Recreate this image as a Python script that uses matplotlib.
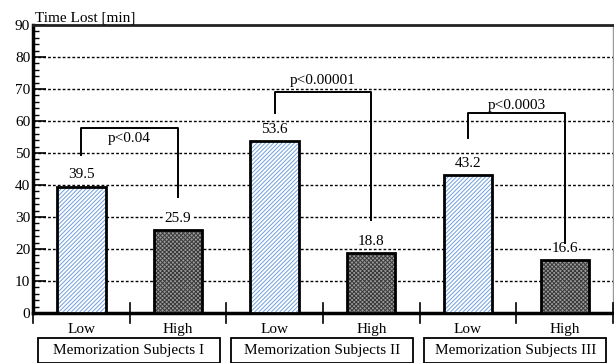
"""plot.py: Time lost per memorization subject group, low vs high"""
import matplotlib.pyplot as plt
from matplotlib.patches import Rectangle
from matplotlib.transforms import blended_transform_factory

groups = ["Memorization Subjects I", "Memorization Subjects II", "Memorization Subjects III"]
levels = ["Low", "High"]
low_values = [39.5, 53.6, 43.2]
high_values = [25.9, 18.8, 16.6]
p_labels = ["p<0.04", "p<0.00001", "p<0.0003"]
# bracket: left leg bottom, top, right leg bottom, label y
brackets = [(49.4, 57.8, 36.4, 54.4), (62.5, 69.0, 29.0, 72.8), (54.7, 62.5, 21.9, 64.7)]

FONT = 11
BAR_W = 0.5

plt.rcParams['font.family'] = ['Liberation Serif', 'DejaVu Serif']
plt.rcParams['hatch.linewidth'] = 0.7

fig = plt.figure(figsize=(6.14, 3.63), dpi=100)
ax = fig.add_axes([33 / 614, 50 / 363, 580 / 614, 288 / 363])

ax.set_xlim(0, 6)
ax.set_ylim(0, 90)

for i in range(len(groups)):
    xl = 2 * i + 0.5
    xh = 2 * i + 1.5
    # low bar: blue hatch, black outline
    ax.bar(xl, low_values[i], BAR_W, color='white', edgecolor='#6f9fe0',
           hatch='////////', linewidth=0, zorder=3)
    ax.bar(xl, low_values[i], BAR_W, fill=False, edgecolor='black', linewidth=2, zorder=4)
    # high bar: dark dithered
    ax.bar(xh, high_values[i], BAR_W, color='#9c9c9c', edgecolor='#383838',
           hatch='xxxxxxxx', linewidth=0, zorder=3)
    ax.bar(xh, high_values[i], BAR_W, fill=False, edgecolor='black', linewidth=2, zorder=4)

    for x, v in ((xl, low_values[i]), (xh, high_values[i])):
        ax.text(x, v + 1.6, "{:.1f}".format(v), ha='center', va='bottom', fontsize=FONT,
                zorder=5, bbox=dict(facecolor='white', edgecolor='none', pad=0.5))

    lb, top, rb, ty = brackets[i]
    ax.plot([xl, xl, xh, xh], [lb, top, top, rb], color='black', linewidth=1.4, zorder=5)
    ax.text((xl + xh) / 2, ty, p_labels[i], ha='center', va='center', fontsize=FONT, zorder=5)

# grid
for y in range(0, 90, 10):
    ax.axhline(y, color='black', linewidth=1, linestyle=(0, (2, 1.5)), zorder=1)

ax.set_yticks(range(0, 91, 10))
ax.set_yticks(range(0, 91, 2), minor=True)
ax.tick_params(axis='y', which='major', direction='in', length=9, width=1.2,
               labelsize=FONT, pad=2)
ax.tick_params(axis='y', which='minor', direction='in', length=4, width=1)
ax.set_xticks([])

ax.spines['left'].set_linewidth(2.5)
ax.spines['bottom'].set_linewidth(2.5)
ax.spines['top'].set_linewidth(2)
ax.spines['top'].set_color('#222222')
ax.spines['right'].set_color('#999999')
ax.spines['right'].set_linewidth(1)

trans = blended_transform_factory(ax.transData, ax.transAxes)
for b in range(7):
    ax.plot([b, b], [0.035, -0.035], color='black', linewidth=1.2, transform=trans,
            clip_on=False, zorder=6)
for i in range(len(groups)):
    for j, lvl in enumerate(levels):
        ax.text(2 * i + j + 0.5, -0.035, lvl, ha='center', va='top', fontsize=FONT,
                transform=trans)
    box = Rectangle((2 * i + 0.05, -0.172), 1.88, 0.085, transform=trans, fill=False,
                    edgecolor='black', linewidth=1.3, clip_on=False)
    ax.add_patch(box)
    ax.text(2 * i + 0.99, -0.13, groups[i], ha='center', va='center', fontsize=FONT,
            transform=trans)

ax.text(0.003, 1.0, "Time Lost [min]", ha='left', va='bottom', fontsize=FONT,
        transform=ax.transAxes)

plt.savefig("out.png", dpi=100)
